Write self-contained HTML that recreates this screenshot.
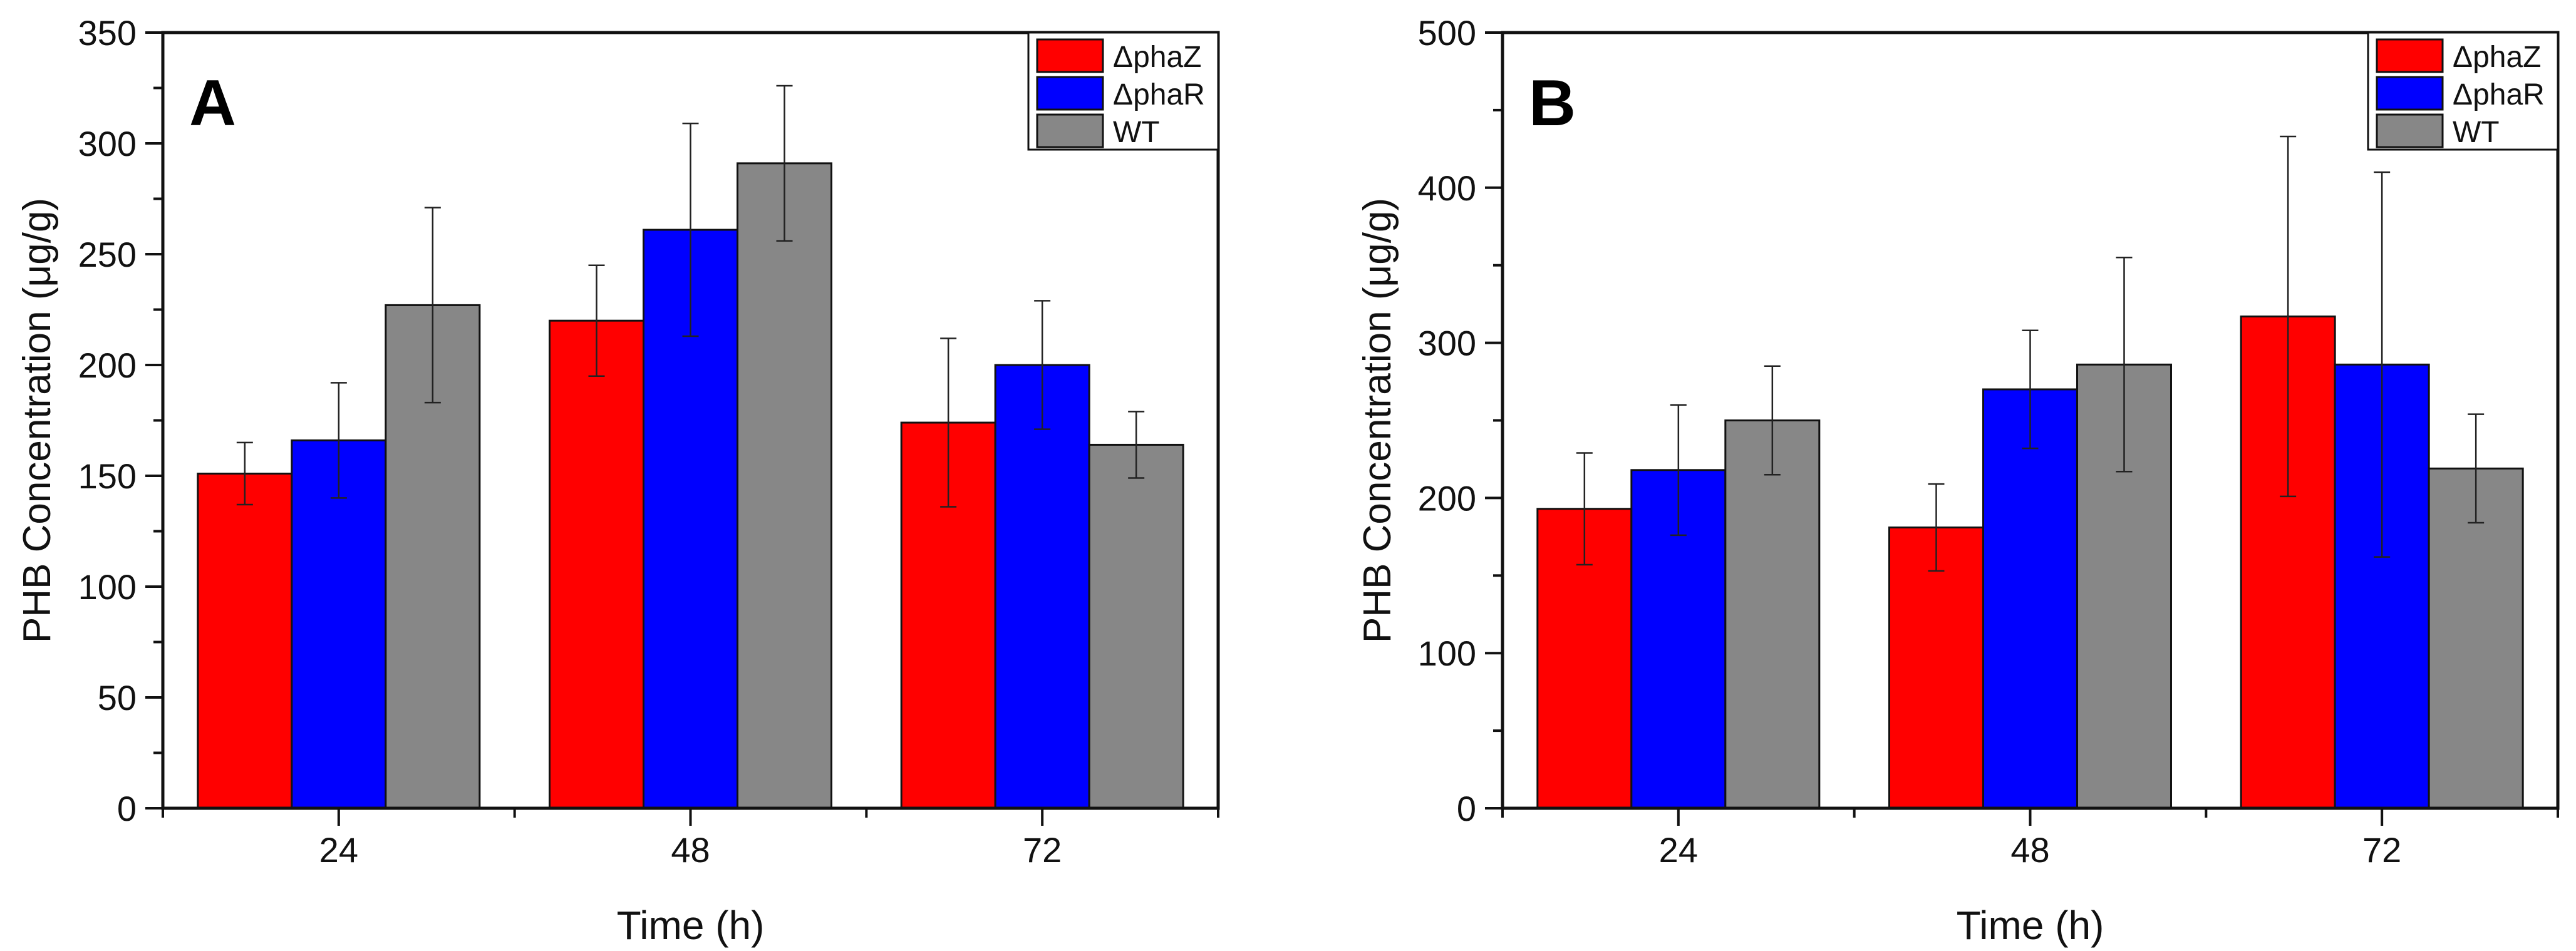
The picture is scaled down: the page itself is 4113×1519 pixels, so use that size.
<!DOCTYPE html>
<html><head><meta charset="utf-8"><style>
html,body{margin:0;padding:0;background:#fff;}
svg{display:block;font-family:"Liberation Sans",Arial,sans-serif;}
</style></head><body>
<svg id="chart" width="4113" height="1519" viewBox="0 0 4113 1519" xmlns="http://www.w3.org/2000/svg">
<rect width="4113" height="1519" fill="#fff"/>
</svg>
<script>
const categories = ["24", "48", "72"];
const seriesNames = ["ΔphaZ", "ΔphaR", "WT"];
const seriesColors = ["#ff0000", "#0000ff", "#878787"];
const aZ = [151, 220, 174];
const aR = [166, 261, 200];
const aW = [227, 291, 164];
const aZerr = [14, 25, 38];
const aRerr = [26, 48, 29];
const aWerr = [44, 35, 15];
const aTicks = [0, 50, 100, 150, 200, 250, 300, 350];
const bZ = [193, 181, 317];
const bR = [218, 270, 286];
const bW = [250, 286, 219];
const bZerr = [36, 28, 116];
const bRerr = [42, 38, 124];
const bWerr = [35, 69, 35];
const bTicks = [0, 100, 200, 300, 400, 500];

const NS = "http://www.w3.org/2000/svg";
const svg = document.getElementById("chart");
function mk(tag, attrs, parent, text) {
  const e = document.createElementNS(NS, tag);
  for (const k in attrs) e.setAttribute(k, attrs[k]);
  if (text !== undefined) e.textContent = text;
  (parent || svg).appendChild(e);
  return e;
}

function panel(id, left, letter, vals, errs, ticks, titleX) {
  const top = 52, bottom = 1291, width = 1685, right = left + width;
  const ymax = ticks[ticks.length - 1];
  const y = v => bottom - (v / ymax) * (bottom - top);
  const catW = width / categories.length;
  const x = i => left + catW * (i + 0.5);
  const barW = 150;
  const g = mk("g", {});
  
  

  // bars
  for (let s = 0; s < 3; s++) {
    for (let i = 0; i < categories.length; i++) {
      const bx = x(i) - 1.5 * barW + s * barW;
      const r = mk("rect", {x: bx, y: y(vals[s][i]), width: barW, height: bottom - y(vals[s][i]), fill: seriesColors[s], stroke: "#111", "stroke-width": 3}, g);
      
      
    }
  }
  // error bars
  for (let s = 0; s < 3; s++) {
    for (let i = 0; i < categories.length; i++) {
      const cx = x(i) - barW + s * barW;
      const hi = y(vals[s][i] + errs[s][i]), lo = y(vals[s][i] - errs[s][i]);
      const eg = mk("g", {stroke: "#222", "stroke-width": 2.5}, g);
      
      
      mk("line", {x1: cx, x2: cx, y1: hi, y2: lo}, eg);
      mk("line", {x1: cx - 13, x2: cx + 13, y1: hi, y2: hi}, eg);
      mk("line", {x1: cx - 13, x2: cx + 13, y1: lo, y2: lo}, eg);
    }
  }
  // frame
  const fr = mk("rect", {x: left, y: top, width: width, height: bottom - top, fill: "none", stroke: "#111", "stroke-width": 5}, g);
  
  
  // y ticks
  const step = ticks[1] - ticks[0];
  for (let k = 0; k < ticks.length; k++) {
    const ty = y(ticks[k]);
    mk("line", {x1: left - 28, x2: left, y1: ty, y2: ty, stroke: "#111", "stroke-width": 4}, g);
    const t = mk("text", {x: left - 42, y: ty + 20, "font-size": 56, "text-anchor": "end", fill: "#111"}, g, ticks[k]);
    
    
    if (k < ticks.length - 1) {
      const my = y(ticks[k] + step / 2);
      mk("line", {x1: left - 15, x2: left, y1: my, y2: my, stroke: "#111", "stroke-width": 4}, g);
    }
  }
  // x ticks
  for (let i = 0; i < categories.length; i++) {
    mk("line", {x1: x(i), x2: x(i), y1: bottom, y2: bottom + 28, stroke: "#111", "stroke-width": 4}, g);
    const t = mk("text", {x: x(i), y: bottom + 86, "font-size": 56, "text-anchor": "middle", fill: "#111"}, g, categories[i]);
    
    
  }
  for (let i = 0; i <= categories.length; i++) {
    const mx = left + catW * i;
    mk("line", {x1: mx, x2: mx, y1: bottom, y2: bottom + 15, stroke: "#111", "stroke-width": 4}, g);
  }
  // titles
  const xt = mk("text", {x: left + width / 2, y: 1500, "font-size": 64, "text-anchor": "middle", fill: "#111"}, g, "Time (h)");
  
  
  const yt = mk("text", {x: 0, y: 0, "font-size": 62, "text-anchor": "middle", fill: "#111", transform: "translate(" + titleX + "," + ((top + bottom) / 2) + ") rotate(-90)"}, g, "PHB Concentration (μg/g)");
  
  
  const lt = mk("text", {x: left + 42, y: 200, "font-size": 104, "font-weight": "bold", fill: "#000"}, g, letter);
  
  
  // legend
  const lg = mk("g", {}, g);
  
  
  mk("rect", {x: right - 303, y: top, width: 303, height: 187, fill: "#fff", stroke: "#111", "stroke-width": 3}, lg);
  for (let s = 0; s < 3; s++) {
    const ry = 63 + s * 60;
    const e = mk("g", {}, lg);
    
    
    mk("rect", {x: right - 289, y: ry, width: 105, height: 52, fill: seriesColors[s], stroke: "#111", "stroke-width": 3}, e);
    mk("text", {x: right - 168, y: ry + 44, "font-size": 48, fill: "#111"}, e, seriesNames[s]);
  }
}

panel("a", 260, "A", [aZ, aR, aW], [aZerr, aRerr, aWerr], aTicks, 80);
panel("b", 2399, "B", [bZ, bR, bW], [bZerr, bRerr, bWerr], bTicks, 2220);
</script>
</body></html>
